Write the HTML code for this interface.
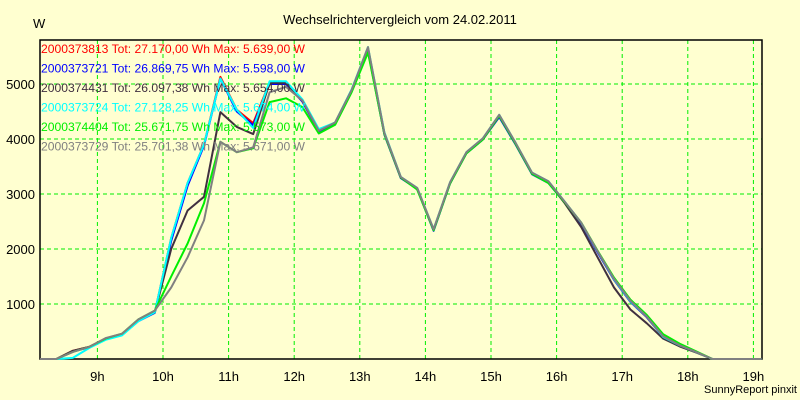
<!DOCTYPE html>
<html><head><meta charset="utf-8"><style>
body{margin:0;background:#ffffd0;}
svg{display:block;font-family:"Liberation Sans",sans-serif;}
</style></head><body>
<svg id="chart" width="800" height="400">
<rect width="800" height="400" fill="#ffffd0"/>
<text x="400" y="24" text-anchor="middle" font-size="13">Wechselrichtervergleich vom 24.02.2011</text>
<text x="33" y="28" font-size="13">W</text>
<text x="797" y="393" text-anchor="end" font-size="11">SunnyReport pinxit</text>
<g id="grid"></g><g id="axes"></g><g id="lines"></g><g id="legend"></g>
</svg>
<script>
const yTicks=[1000,2000,3000,4000,5000];
const xTicks=[9,10,11,12,13,14,15,16,17,18,19];
const startHour=8.125, stepHour=0.25;
const names=["2000373813","2000373721","2000374431","2000373724","2000374404","2000373729"];
const totals=["27.170,00","26.869,75","26.097,38","27.128,25","25.671,75","25.701,38"];
const maxes=["5.639,00","5.598,00","5.654,00","5.674,00","5.573,00","5.671,00"];
const colors=["#ff0000","#0000ff","#403040","#00ffff","#00ee00","#808080"];
const s1=[0,0,150,220,370,450,700,850,2200,3200,3900,5130,4530,4290,5030,5020,4700,4160,4300,4890,5650,4100,3300,3100,2350,3200,3750,4000,4430,3920,3380,3220,2850,2470,1950,1440,1040,760,400,250,130,0,0,0,0];
const s2=[0,0,140,210,360,440,690,840,2150,3150,3880,5100,4500,4250,5000,5000,4680,4140,4280,4870,5600,4080,3290,3090,2330,3190,3740,3990,4400,3900,3360,3200,2840,2460,1940,1440,1040,760,400,250,130,0,0,0,0];
const s3=[0,0,150,220,370,450,700,850,2000,2700,2950,4490,4220,4090,5020,5020,4700,4160,4300,4890,5650,4100,3300,3100,2350,3200,3750,4000,4430,3920,3380,3220,2830,2400,1850,1300,900,650,370,230,120,0,0,0,0];
const s4=[0,0,20,200,350,430,690,850,2200,3200,3900,5100,4530,4200,5050,5050,4720,4180,4300,4900,5670,4120,3310,3110,2360,3210,3760,4010,4440,3930,3390,3230,2860,2480,1960,1450,1050,770,400,250,130,0,0,0,0];
const s5=[0,0,130,220,370,460,720,880,1500,2100,2830,3950,3760,3830,4670,4740,4580,4100,4260,4850,5570,4090,3300,3080,2340,3190,3740,3990,4420,3910,3370,3200,2850,2480,1970,1480,1080,800,450,280,140,0,0,0,0];
const s6=[0,0,130,220,380,460,720,880,1300,1850,2520,3950,3760,3850,4850,4950,4700,4150,4300,4890,5670,4110,3310,3110,2360,3210,3760,4010,4440,3930,3390,3230,2860,2480,1960,1460,1060,770,410,250,130,0,0,0,0];
const series=[s1,s2,s3,s4,s5,s6];
const X0=40,X1=762,Y0=359,Y1=40;
const xs=h=>X0+(h-startHour)*65.6;
const ys=v=>Y0-v*0.055;
const NS="http://www.w3.org/2000/svg";
function mk(tag,parent,attrs){const e=document.createElementNS(NS,tag);for(const k in attrs)e.setAttribute(k,attrs[k]);parent.appendChild(e);return e;}
const grid=document.getElementById('grid'),axes=document.getElementById('axes'),lines=document.getElementById('lines'),legend=document.getElementById('legend');
yTicks.forEach(v=>{
 const l=mk('line',grid,{x1:X0,x2:X1,y1:ys(v),y2:ys(v),stroke:'#00ee00','stroke-dasharray':'4,3'});
 
 
 const t=mk('text',axes,{x:35,y:ys(v)+5,'text-anchor':'end','font-size':'13'});
 t.textContent=v;
 
 
});
xTicks.forEach(h=>{
 const l=mk('line',grid,{x1:xs(h),x2:xs(h),y1:Y1,y2:Y0,stroke:'#00ee00','stroke-dasharray':'4,3'});
 
 
 const t=mk('text',axes,{x:xs(h),y:381,'text-anchor':'middle','font-size':'13'});
 t.textContent=h+'h';
 
 
});
const frame=mk('path',axes,{d:`M${X0},${Y1}H${X1}V${Y0}H${X0}Z`,fill:'none',stroke:'#000','stroke-width':'1.5'});


series.forEach((s,i)=>{
 const pts=s.map((v,k)=>xs(startHour+k*stepHour).toFixed(1)+','+ys(v).toFixed(1)).join(' ');
 const p=mk('polyline',lines,{points:pts,fill:'none',stroke:colors[i],'stroke-width':'2','stroke-linejoin':'round'});
 
 
 const t=mk('text',legend,{x:41,y:53+i*19.5,'font-size':'12',fill:colors[i],textLength:'264',lengthAdjust:'spacingAndGlyphs'});
 t.textContent=names[i]+' Tot: '+totals[i]+' Wh Max: '+maxes[i]+' W';
 
 
});
</script>
</body></html>
